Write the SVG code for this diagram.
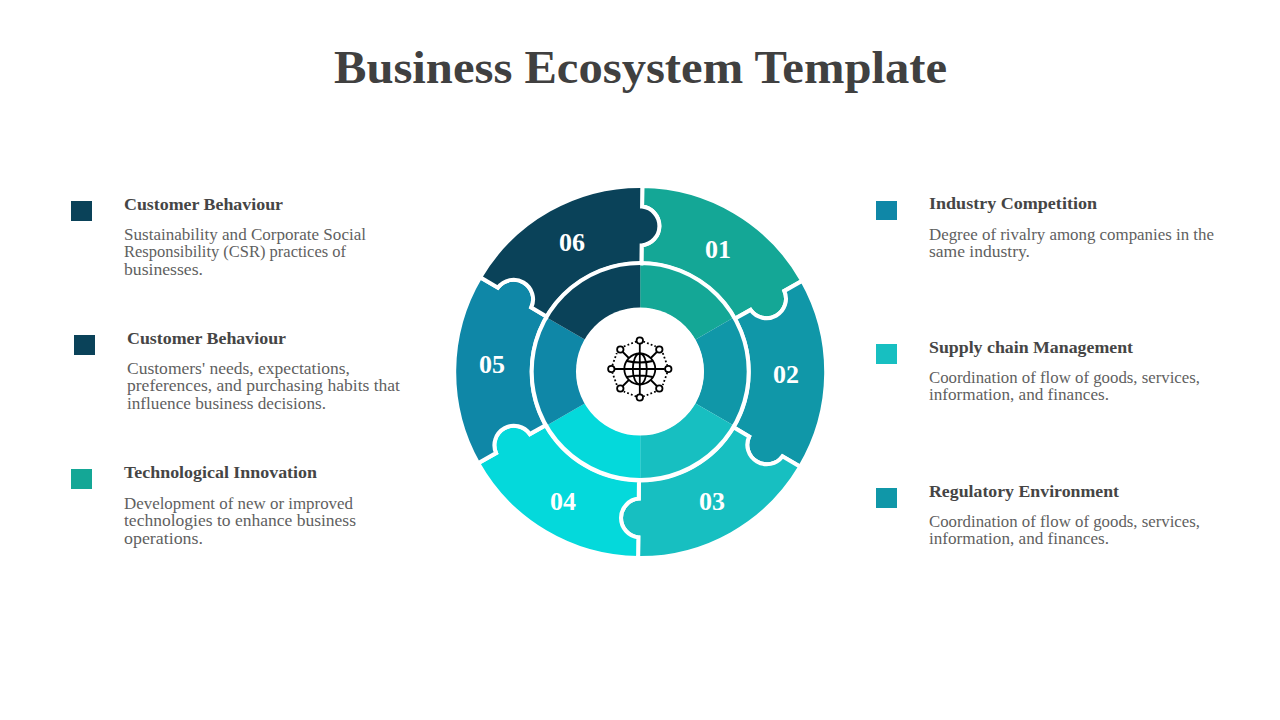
<svg xmlns="http://www.w3.org/2000/svg" xmlns:xlink="http://www.w3.org/1999/xlink" width="1280" height="720" viewBox="0 0 1280 720">
<style>
text{font-family:"Liberation Serif","DejaVu Serif",serif}
.t{font-size:47px;font-weight:700;fill:#404040}
.h{font-size:17.5px;font-weight:700;fill:#454545}
.b{font-size:16.5px;fill:#5f5f5f}
.n{font-size:26px;font-weight:700;fill:#fff;text-anchor:middle}
.p{stroke:#fff;stroke-width:4}
.i{fill:none;stroke:#000;stroke-width:1.8}
.c1{fill:#14A796}.c2{fill:#1097A8}.c3{fill:#17BFC1}.c4{fill:#04D9DB}.c5{fill:#0F87A7}.c6{fill:#0A4259}
</style>
<defs>
<path id="piece" d="M0 -186A186 186 0 0 1 161.08 -93L143.24 -82.7A19.5 19.5 0 0 1 109.64 -63.3L93.96 -54.25A108.5 108.5 0 0 0 0 -108.5L0 -126.6A19.5 19.5 0 0 0 0 -165.4Z"/>
<path id="wedge" d="M0 -108.5A108.5 108.5 0 0 1 93.96 -54.25L55 -31.75A63.5 63.5 0 0 0 0 -63.5Z"/>
</defs>
<text class="t" x="334" y="83" textLength="613" lengthAdjust="spacingAndGlyphs">Business Ecosystem Template</text>
<g id="wheel">
<g id="piece-01" class="c1"><use href="#piece" class="p" transform="translate(640.2 372) rotate(0.65)"/><use href="#wedge" transform="translate(640.2 371.5)"/></g>
<g id="piece-02" class="c2"><use href="#piece" class="p" transform="translate(640.2 372) rotate(60.65)"/><use href="#wedge" transform="translate(640.2 371.5) rotate(60)"/></g>
<g id="piece-03" class="c3"><use href="#piece" class="p" transform="translate(640.2 372) rotate(120.65)"/><use href="#wedge" transform="translate(640.2 371.5) rotate(120)"/></g>
<g id="piece-04" class="c4"><use href="#piece" class="p" transform="translate(640.2 372) rotate(180.65)"/><use href="#wedge" transform="translate(640.2 371.5) rotate(180)"/></g>
<g id="piece-05" class="c5"><use href="#piece" class="p" transform="translate(640.2 372) rotate(240.65)"/><use href="#wedge" transform="translate(640.2 371.5) rotate(240)"/></g>
<g id="piece-06" class="c6"><use href="#piece" class="p" transform="translate(640.2 372) rotate(300.65)"/><use href="#wedge" transform="translate(640.2 371.5) rotate(300)"/></g>
<circle cx="640.2" cy="371.5" r="108.5" fill="none" stroke="#fff" stroke-width="4"/>
<circle cx="640" cy="371.5" r="64" fill="#fff"/>
<text class="n" x="718" y="258">01</text>
<text class="n" x="786" y="383">02</text>
<text class="n" x="712" y="510">03</text>
<text class="n" x="563" y="510">04</text>
<text class="n" x="492" y="373">05</text>
<text class="n" x="572" y="251">06</text>
</g>
<g id="icon" transform="translate(639.8 369)">
<circle class="i" r="15.5"/><ellipse class="i" rx="7" ry="15.5"/><path class="i" d="M0 -15.5V15.5M-15.5 0H15.5M-13 -8Q0 -5 13 -8M-13 8Q0 5 13 8"/>
<path class="i" d="M0 -15.5V-25M0 15.5V25M-15.5 0H-25M15.5 0H25M-11 -11L-17 -17M11 -11L17 -17M-11 11L-17 17M11 11L17 17"/>
<path class="i" stroke-dasharray="1.8 2.2" d="M3.5 -27.5L16 -22.5M23 -16L27.5 -3.5M27.5 3.5L23 16M16 22.5L3.5 27.5M-3.5 27.5L-16 22.5M-23 16L-27.5 3.5M-27.5 -3.5L-23 -16M-16 -22.5L-3.5 -27.5"/>
<g fill="#fff"><circle class="i" style="fill:#fff" cy="-28.5" r="3.2"/><circle class="i" style="fill:#fff" cy="28.5" r="3.2"/><circle class="i" style="fill:#fff" cx="-28.5" r="3.2"/><circle class="i" style="fill:#fff" cx="28.5" r="3.2"/><circle class="i" style="fill:#fff" cx="-19.5" cy="-19.5" r="3.2"/><circle class="i" style="fill:#fff" cx="19.5" cy="-19.5" r="3.2"/><circle class="i" style="fill:#fff" cx="-19.5" cy="19.5" r="3.2"/><circle class="i" style="fill:#fff" cx="19.5" cy="19.5" r="3.2"/></g>
</g>
<g id="item-left-1"><rect class="c6" x="71" y="201" width="21" height="20"/>
<text class="h" x="124" y="210" textLength="159" lengthAdjust="spacingAndGlyphs">Customer Behaviour</text>
<text class="b" x="124" y="240" textLength="242" lengthAdjust="spacingAndGlyphs">Sustainability and Corporate Social</text>
<text class="b" x="124" y="257" textLength="222" lengthAdjust="spacingAndGlyphs">Responsibility (CSR) practices of</text>
<text class="b" x="124" y="275" textLength="79" lengthAdjust="spacingAndGlyphs">businesses.</text></g>
<g id="item-left-2"><rect class="c6" x="74" y="335" width="21" height="20"/>
<text class="h" x="127" y="344" textLength="159" lengthAdjust="spacingAndGlyphs">Customer Behaviour</text>
<text class="b" x="127" y="374" textLength="223" lengthAdjust="spacingAndGlyphs">Customers' needs, expectations,</text>
<text class="b" x="127" y="391" textLength="273" lengthAdjust="spacingAndGlyphs">preferences, and purchasing habits that</text>
<text class="b" x="127" y="409" textLength="199" lengthAdjust="spacingAndGlyphs">influence business decisions.</text></g>
<g id="item-left-3"><rect class="c1" x="71" y="469" width="21" height="20"/>
<text class="h" x="124" y="478" textLength="193" lengthAdjust="spacingAndGlyphs">Technological Innovation</text>
<text class="b" x="124" y="509" textLength="229" lengthAdjust="spacingAndGlyphs">Development of new or improved</text>
<text class="b" x="124" y="526" textLength="232" lengthAdjust="spacingAndGlyphs">technologies to enhance business</text>
<text class="b" x="124" y="544" textLength="79" lengthAdjust="spacingAndGlyphs">operations.</text></g>
<g id="item-right-1"><rect class="c5" x="876" y="201" width="21" height="19"/>
<text class="h" x="929" y="209" textLength="168" lengthAdjust="spacingAndGlyphs">Industry Competition</text>
<text class="b" x="929" y="240" textLength="285" lengthAdjust="spacingAndGlyphs">Degree of rivalry among companies in the</text>
<text class="b" x="929" y="257" textLength="101" lengthAdjust="spacingAndGlyphs">same industry.</text></g>
<g id="item-right-2"><rect class="c3" x="876" y="344" width="21" height="20"/>
<text class="h" x="929" y="353" textLength="204" lengthAdjust="spacingAndGlyphs">Supply chain Management</text>
<text class="b" x="929" y="383" textLength="271" lengthAdjust="spacingAndGlyphs">Coordination of flow of goods, services,</text>
<text class="b" x="929" y="400" textLength="180" lengthAdjust="spacingAndGlyphs">information, and finances.</text></g>
<g id="item-right-3"><rect class="c2" x="876" y="488" width="21" height="20"/>
<text class="h" x="929" y="497" textLength="190" lengthAdjust="spacingAndGlyphs">Regulatory Environment</text>
<text class="b" x="929" y="527" textLength="271" lengthAdjust="spacingAndGlyphs">Coordination of flow of goods, services,</text>
<text class="b" x="929" y="544" textLength="180" lengthAdjust="spacingAndGlyphs">information, and finances.</text></g>
</svg>
